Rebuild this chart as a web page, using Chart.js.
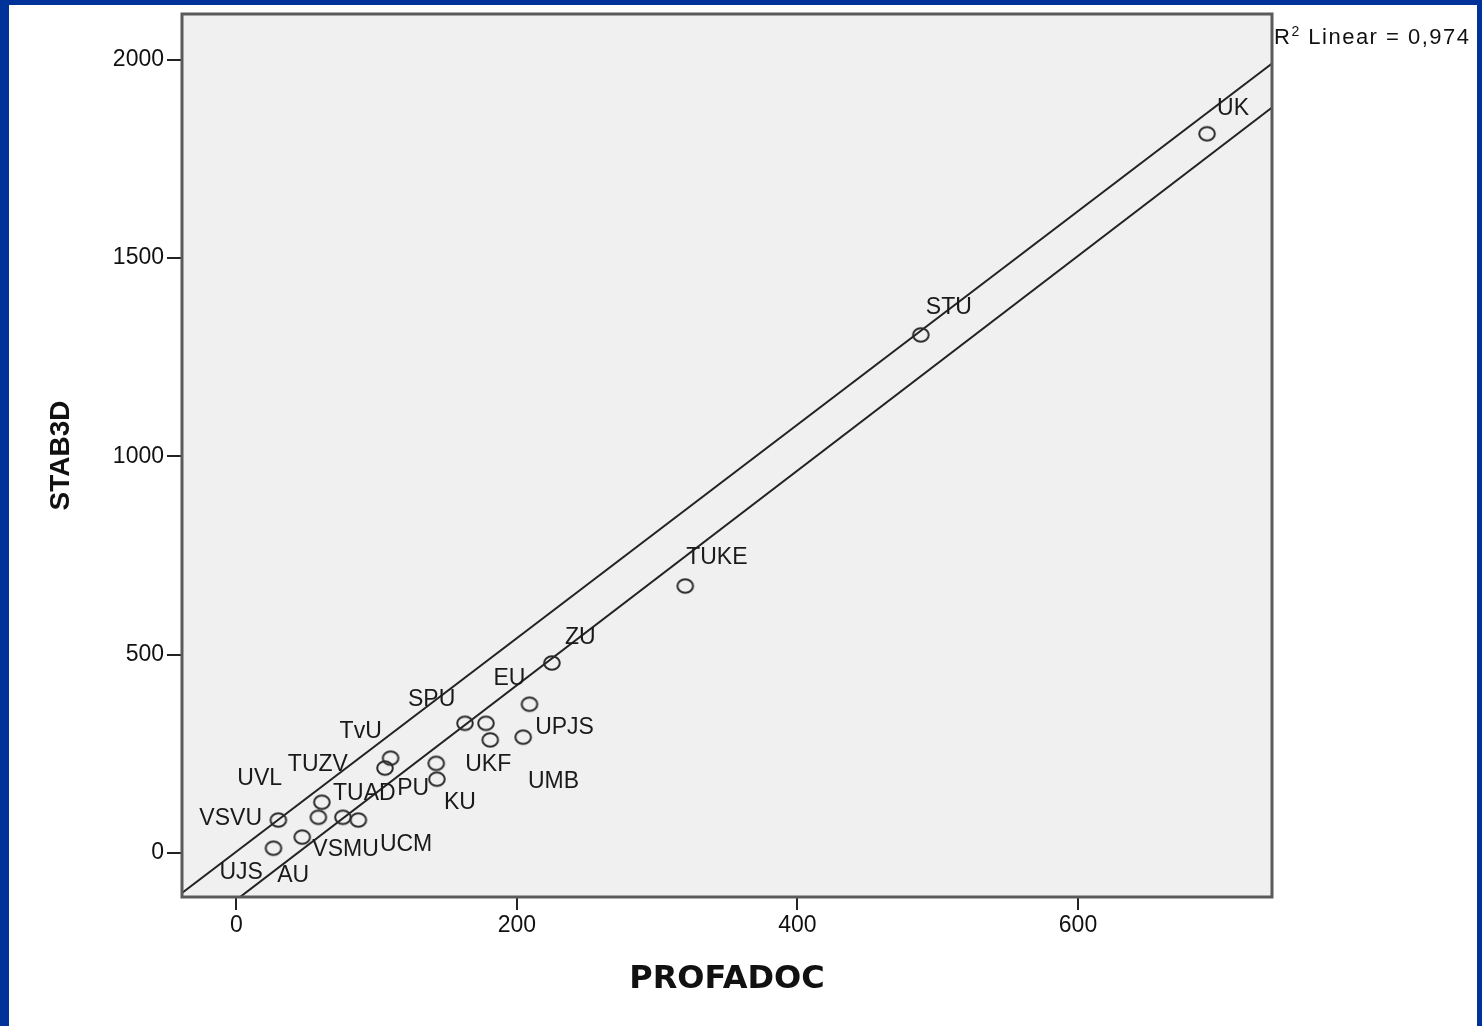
<!DOCTYPE html>
<html>
<head>
<meta charset="utf-8">
<script src="https://cdn.jsdelivr.net/npm/chart.js@4.4.1/dist/chart.umd.min.js"></script>
<style>
  html, body { margin: 0; padding: 0; background: #003399; }
  #bingkai { position: absolute; left: 9px; top: 5px; width: 1468px; height: 1021px; background: #fff; }
  canvas { display: block; }
</style>
</head>
<body>
<div id="bingkai"><canvas id="diagram" width="1468" height="1021"></canvas></div>
<script>
// data universitas
const namaPT = ["UK", "STU", "TUKE", "ZU", "EU", "SPU", "UPJS", "UKF", "UMB", "TvU",
  "PU", "KU", "TUAD", "TUZV", "UVL", "VSVU", "UCM", "VSMU", "UJS", "AU"];
const profadoc = [692, 488, 320, 225, 209, 163, 204.5, 181, 178, 110,
  142.5, 143, 106, 61, 58.5, 30, 76, 87, 26.5, 47];
const stab3d = [1813, 1306, 673, 479, 375, 327, 292, 285, 327, 239,
  226, 186, 214, 128, 90, 83, 90, 83, 12, 40];

const tickX = [0, 200, 400, 600];
const tickY = [0, 500, 1000, 1500, 2000];

// dua garis lurus (ujung kiri dan kanan)
const garisX = [-38.7, 738.3];
const garisAtas = [-101, 1990];
const garisBawah = [-223, 1879];

const teksR2 = "0,974";

// posisi label relatif ke titik (piksel)
const geserLabel = [[10, -25], [5, -27], [1, -28], [13, -25], [-36, -26], [-57, -24],
  [12, -9], [-25, 25], [42, 58], [-51, -27], [-39, 25], [7, 23], [-52, 26],
  [-34, -38], [-81, -39], [-79, -1], [37, 27], [-46, 30], [-54, 24], [-25, 39]];

const huruf = "'Liberation Sans', Arial, sans-serif";

// penanda lingkaran agak lonjong
function buatPenanda() {
  const c = document.createElement("canvas");
  c.width = 22; c.height = 20;
  const g = c.getContext("2d");
  g.strokeStyle = "#2a2a2a";
  g.lineWidth = 2;
  g.beginPath();
  g.ellipse(11, 10, 7.8, 6.8, 0, 0, Math.PI * 2);
  g.stroke();
  return c;
}

const pluginPlot = {
  id: "pluginPlot",
  beforeDraw(chart) {
    const { ctx, chartArea: a } = chart;
    ctx.save();
    ctx.fillStyle = "#f0f0f0";
    ctx.fillRect(a.left, a.top, a.right - a.left, a.bottom - a.top);
    ctx.restore();
  },
  afterDatasetsDraw(chart) {
    const { ctx } = chart;
    const meta = chart.getDatasetMeta(0);
    ctx.save();
    ctx.font = "23px " + huruf;
    ctx.fillStyle = "#1a1a1a";
    ctx.textAlign = "left";
    ctx.textBaseline = "middle";
    meta.data.forEach((el, i) => {
      ctx.fillText(namaPT[i], el.x + geserLabel[i][0], el.y + geserLabel[i][1]);
    });
    ctx.restore();
  },
  afterDraw(chart) {
    const { ctx, chartArea: a } = chart;
    ctx.save();
    // bingkai plot
    ctx.strokeStyle = "#5a5a5a";
    ctx.lineWidth = 3;
    ctx.strokeRect(a.left, a.top, a.right - a.left, a.bottom - a.top);
    // teks R kuadrat
    ctx.fillStyle = "#111";
    ctx.textBaseline = "alphabetic";
    ctx.textAlign = "left";
    ctx.letterSpacing = "1.5px";
    let x = a.right + 2;
    const y = a.top + 30;
    ctx.font = "22px " + huruf;
    ctx.fillText("R", x, y);
    x += ctx.measureText("R").width;
    ctx.font = "14px " + huruf;
    ctx.fillText("2", x, y - 8);
    x += ctx.measureText("2").width;
    ctx.font = "22px " + huruf;
    ctx.fillText(" Linear = " + teksR2, x, y);
    ctx.restore();
  }
};

const ctx = document.getElementById("diagram").getContext("2d");

new Chart(ctx, {
  type: "scatter",
  data: {
    datasets: [
      {
        label: "Universitas",
        data: profadoc.map((v, i) => ({ x: v, y: stab3d[i] })),
        pointStyle: buatPenanda(),
        pointRadius: 8,
        pointHoverRadius: 8
      },
      {
        label: "Garis atas",
        data: garisX.map((v, i) => ({ x: v, y: garisAtas[i] })),
        showLine: true,
        borderColor: "#222",
        borderWidth: 2,
        pointRadius: 0
      },
      {
        label: "Garis bawah",
        data: garisX.map((v, i) => ({ x: v, y: garisBawah[i] })),
        showLine: true,
        borderColor: "#222",
        borderWidth: 2,
        pointRadius: 0
      }
    ]
  },
  options: {
    responsive: false,
    animation: false,
    events: [],
    layout: { padding: { left: 0, top: 9, right: 205, bottom: 0 } },
    plugins: {
      legend: { display: false },
      tooltip: { enabled: false }
    },
    scales: {
      x: {
        type: "linear",
        min: -38.7,
        max: 738.3,
        afterBuildTicks: s => { s.ticks = tickX.map(v => ({ value: v })); },
        afterFit: s => { s.height = 129; s.paddingLeft = 0; s.paddingRight = 0; },
        border: { display: false },
        grid: { drawOnChartArea: false, drawTicks: true, tickLength: 13, color: "#222", lineWidth: 2 },
        ticks: { font: { family: huruf, size: 23 }, color: "#111", padding: 2, callback: v => String(v) },
        title: {
          display: true,
          text: "PROFADOC",
          color: "#111",
          font: { family: "'DejaVu Sans', sans-serif", weight: "bold", size: 32 },
          padding: { top: 0, bottom: 27 }
        }
      },
      y: {
        type: "linear",
        min: -111,
        max: 2115,
        afterBuildTicks: s => { s.ticks = tickY.map(v => ({ value: v })); },
        afterFit: s => { s.width = 173; s.paddingTop = 0; s.paddingBottom = 0; },
        border: { display: false },
        grid: { drawOnChartArea: false, drawTicks: true, tickLength: 15, color: "#222", lineWidth: 2 },
        ticks: { font: { family: huruf, size: 23 }, color: "#111", padding: 3, callback: v => String(v) },
        title: {
          display: true,
          text: "STAB3D",
          color: "#111",
          font: { family: huruf, weight: "bold", size: 28 },
          padding: { top: 35, bottom: 0 }
        }
      }
    }
  },
  plugins: [pluginPlot]
});
</script>
</body>
</html>
